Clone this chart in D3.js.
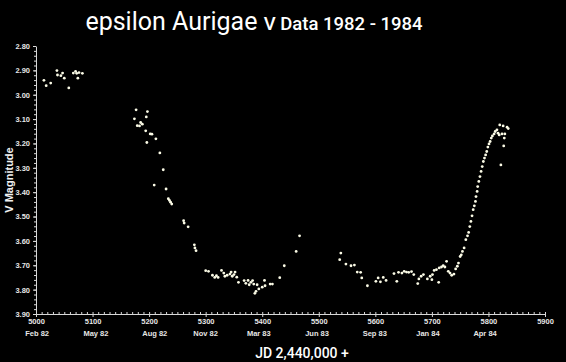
<!DOCTYPE html>
<html>
<head>
<meta charset="utf-8">
<script src="https://cdn.jsdelivr.net/npm/d3@7"></script>
<style>
  html, body { margin: 0; padding: 0; background: #000; }
  svg { display: block; }
  .tick text { font-family: Arial, "Liberation Sans", sans-serif; font-weight: bold; }
</style>
</head>
<body>
<div id="chart"></div>
<script>
'use strict';

// Julian dates (JD - 2,440,000) and V magnitudes
var jd = [
  5014, 5018, 5026, 5037, 5038, 5044, 5047, 5050, 5058, 5066, 5070, 5072, 5074, 5076, 5082,
  5177, 5174, 5197, 5195, 5179, 5183, 5185, 5188, 5194, 5202, 5205, 5212, 5196, 5219, 5225,
  5209, 5230, 5234, 5236, 5238, 5240, 5261, 5262, 5269, 5280, 5281, 5283,
  5300, 5305, 5312, 5316, 5319, 5322, 5328, 5332, 5334, 5338, 5343, 5345, 5347, 5350, 5352,
  5355, 5358, 5368, 5371, 5375, 5377, 5380, 5383, 5385, 5387, 5389, 5391, 5394, 5400, 5404,
  5405, 5414, 5418, 5431, 5439, 5460, 5466,
  5539, 5537, 5548, 5557, 5563, 5568, 5574, 5576, 5586, 5601, 5605, 5609, 5614, 5619, 5633,
  5638, 5641, 5647, 5651, 5655, 5659, 5664, 5668, 5675, 5677, 5681, 5685, 5692, 5697, 5700,
  5701, 5704, 5708, 5712, 5713, 5717, 5720, 5723, 5726, 5729, 5732, 5735, 5739, 5742, 5745,
  5747, 5750, 5752, 5754, 5757, 5760, 5763, 5765, 5767, 5769, 5771, 5773, 5775, 5777, 5778,
  5780, 5781, 5783, 5785, 5787, 5789, 5791, 5793, 5795, 5797, 5799, 5801, 5803, 5805, 5807,
  5810, 5812, 5815, 5817, 5819, 5820, 5824, 5826, 5828, 5829, 5827, 5822, 5833, 5835
];
var vMag = [
  2.941, 2.963, 2.952, 2.901, 2.919, 2.922, 2.911, 2.932, 2.972, 2.911, 2.904, 2.912, 2.932, 2.909, 2.912,
  3.062, 3.099, 3.069, 3.091, 3.127, 3.128, 3.114, 3.121, 3.148, 3.161, 3.162, 3.181, 3.196, 3.239, 3.308,
  3.371, 3.387, 3.427, 3.434, 3.441, 3.449, 3.517, 3.527, 3.542, 3.616, 3.629, 3.640,
  3.722, 3.725, 3.741, 3.750, 3.743, 3.750, 3.721, 3.732, 3.745, 3.741, 3.736, 3.728, 3.745, 3.738, 3.728,
  3.749, 3.770, 3.763, 3.774, 3.762, 3.780, 3.770, 3.763, 3.777, 3.815, 3.807, 3.780, 3.797, 3.790, 3.762,
  3.784, 3.777, 3.777, 3.751, 3.702, 3.643, 3.579,
  3.650, 3.677, 3.695, 3.702, 3.699, 3.728, 3.729, 3.752, 3.784, 3.766, 3.752, 3.768, 3.750, 3.762, 3.734,
  3.766, 3.729, 3.732, 3.725, 3.728, 3.729, 3.726, 3.738, 3.775, 3.756, 3.745, 3.738, 3.756, 3.745, 3.759,
  3.738, 3.721, 3.718, 3.770, 3.711, 3.707, 3.702, 3.707, 3.684, 3.725, 3.732, 3.741, 3.736, 3.715, 3.704,
  3.691, 3.664, 3.657, 3.643, 3.629, 3.595, 3.579, 3.565, 3.541, 3.520, 3.497, 3.472, 3.456, 3.438, 3.418,
  3.397, 3.377, 3.356, 3.336, 3.315, 3.295, 3.274, 3.260, 3.247, 3.233, 3.215, 3.202, 3.192, 3.178, 3.169,
  3.161, 3.151, 3.144, 3.158, 3.165, 3.124, 3.161, 3.128, 3.178, 3.161, 3.210, 3.288, 3.133, 3.139
];

// Axis ticks and the calendar labels under the JD ticks
var xTicks = [5000, 5100, 5200, 5300, 5400, 5500, 5600, 5700, 5800, 5900];
var yTicks = [2.8, 2.9, 3.0, 3.1, 3.2, 3.3, 3.4, 3.5, 3.6, 3.7, 3.8, 3.9];
var dateLabels = ['Feb 82', 'May 82', 'Aug 82', 'Nov 82', 'Mar 83', 'Jun 83', 'Sep 83', 'Jan 84', 'Apr 84'];
var dateJD = [5002, 5106, 5210, 5300, 5394, 5497, 5599, 5693, 5794];

var width = 566;
var height = 362;

var svg = d3.select('#chart').append('svg')
    .attr('width', width)
    .attr('height', height)
    .style('background', '#000');

// Scales (magnitude axis runs downward)
var x = d3.scaleLinear().domain([5000, 5900]).range([36, 545]);
var y = d3.scaleLinear().domain([2.8, 3.9]).range([46, 314]);

var axisColor = '#d8d8d8';

// Minor ticks
svg.append('g')
    .attr('transform', 'translate(0,314)')
    .call(d3.axisTop(x).tickValues(d3.range(5000, 5901, 10)).tickSize(2).tickFormat(''))
    .call(function(g) {
      g.select('.domain').remove();
      g.selectAll('line').attr('stroke', axisColor);
    });
svg.append('g')
    .attr('transform', 'translate(36,0)')
    .call(d3.axisLeft(y).tickValues(d3.range(0, 56).map(function(i) { return 2.8 + i * 0.02; }))
      .tickSize(2).tickFormat(''))
    .call(function(g) {
      g.select('.domain').remove();
      g.selectAll('line').attr('stroke', axisColor);
    });

// X axis
svg.append('g')
    .attr('class', 'x axis')
    .attr('transform', 'translate(0,314)')
    .call(d3.axisBottom(x).tickValues(xTicks).tickSize(3).tickSizeOuter(0).tickPadding(2)
      .tickFormat(d3.format('d')))
    .call(function(g) {
      g.select('.domain').attr('stroke', axisColor);
      g.selectAll('line').attr('stroke', axisColor);
      g.selectAll('text').attr('fill', '#e6e6e6').style('font-size', '7.5px');
    });

// Y axis
svg.append('g')
    .attr('class', 'y axis')
    .attr('transform', 'translate(36,0)')
    .call(d3.axisLeft(y).tickValues(yTicks).tickSize(3).tickSizeOuter(0).tickPadding(3)
      .tickFormat(d3.format('.2f')))
    .call(function(g) {
      g.select('.domain').attr('stroke', axisColor);
      g.selectAll('line').attr('stroke', axisColor);
      g.selectAll('text').attr('fill', '#e6e6e6').style('font-size', '7.5px');
    });

// Calendar labels
svg.append('g').selectAll('text')
    .data(dateLabels)
  .enter().append('text')
    .attr('x', function(d, i) { return x(dateJD[i]); })
    .attr('y', 336)
    .attr('text-anchor', 'middle')
    .attr('fill', '#e6e6e6')
    .style('font-family', 'Arial, "Liberation Sans", sans-serif')
    .style('font-weight', 'bold')
    .style('font-size', '7.5px')
    .text(function(d) { return d; });

// Data points
svg.append('g').selectAll('circle')
    .data(jd)
  .enter().append('circle')
    .attr('cx', function(d) { return x(d); })
    .attr('cy', function(d, i) { return y(vMag[i]); })
    .attr('r', 1.4)
    .attr('fill', '#fbfbe6');

// Title
var title = svg.append('text')
    .attr('x', 254)
    .attr('y', 30)
    .attr('text-anchor', 'middle')
    .attr('fill', '#fff')
    .style('font-family', 'Roboto, "Open Sans", sans-serif');
title.append('tspan').style('font-size', '25px').text('epsilon Aurigae ');
title.append('tspan').style('font-size', '18.5px').style('font-weight', 500).text('V Data 1982 - 1984');

// Axis titles
svg.append('text')
    .attr('transform', 'translate(13,180) rotate(-90)')
    .attr('text-anchor', 'middle')
    .attr('fill', '#f0f0f0')
    .style('font-family', 'Arial, "Liberation Sans", sans-serif')
    .style('font-weight', 'bold')
    .style('font-size', '11px')
    .text('V Magnitude');

svg.append('text')
    .attr('x', 302)
    .attr('y', 358)
    .attr('text-anchor', 'middle')
    .attr('fill', '#fff')
    .style('font-family', 'Roboto, "Open Sans", sans-serif')
    .style('font-weight', 500)
    .style('font-size', '14px')
    .text('JD 2,440,000 +');
</script>
</body>
</html>
